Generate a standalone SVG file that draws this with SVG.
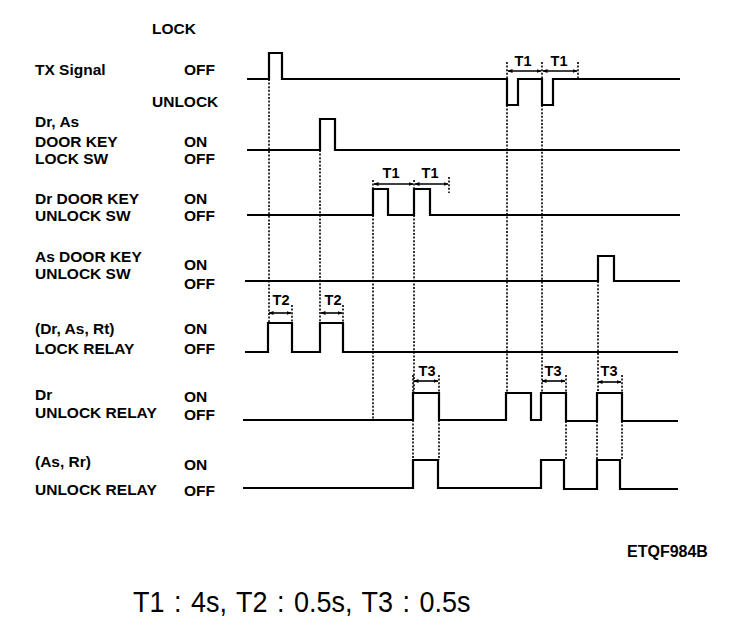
<svg xmlns="http://www.w3.org/2000/svg" width="736" height="628" viewBox="0 0 736 628">
<style>
.lb{font-family:"Liberation Sans",Arial,sans-serif;font-weight:bold;font-size:15.5px;fill:#000}
.tl{font-family:"Liberation Sans",Arial,sans-serif;font-weight:bold;font-size:14.5px;fill:#000;text-anchor:middle}
.wv{fill:none;stroke:#000;stroke-width:2.2;stroke-linejoin:miter}
.dt{fill:none;stroke:#000;stroke-width:1.6;stroke-dasharray:2 1.6}
.ar{fill:none;stroke:#000;stroke-width:1.6;marker-start:url(#ah);marker-end:url(#ah)}
</style>
<defs>
<marker id="ah" viewBox="0 0 10 10" refX="9" refY="5" markerWidth="5" markerHeight="5" orient="auto-start-reverse" markerUnits="userSpaceOnUse">
<path d="M0,1 L10,5 L0,9 z" fill="#000"/>
</marker>
</defs>
<rect width="736" height="628" fill="#fff"/>

<g id="tx-signal">
<text class="lb" x="152" y="34">LOCK</text>
<text class="lb" x="35" y="75">TX Signal</text>
<text class="lb" x="184" y="75">OFF</text>
<text class="lb" x="152" y="107">UNLOCK</text>
<path class="wv" d="M247,79 H269 V53 H282 V79 H507 V105 H518 V79 H542 V105 H553 V79 H680"/>
</g>

<g id="door-key-lock-sw">
<text class="lb" x="35" y="127">Dr, As</text>
<text class="lb" x="35" y="147">DOOR KEY</text>
<text class="lb" x="35" y="164">LOCK SW</text>
<text class="lb" x="184" y="147">ON</text>
<text class="lb" x="184" y="164">OFF</text>
<path class="wv" d="M247,150 H320 V119 H335 V150 H680"/>
</g>

<g id="dr-door-key-unlock-sw">
<text class="lb" x="35" y="204">Dr DOOR KEY</text>
<text class="lb" x="35" y="221">UNLOCK SW</text>
<text class="lb" x="184" y="204">ON</text>
<text class="lb" x="184" y="221">OFF</text>
<path class="wv" d="M247,215 H373 V189 H388 V215 H414 V189 H430 V215 H680"/>
</g>

<g id="as-door-key-unlock-sw">
<text class="lb" x="35" y="262">As DOOR KEY</text>
<text class="lb" x="35" y="279">UNLOCK SW</text>
<text class="lb" x="184" y="270">ON</text>
<text class="lb" x="184" y="289">OFF</text>
<path class="wv" d="M245,281 H598 V256 H614 V281 H680"/>
</g>

<g id="lock-relay">
<text class="lb" x="35" y="334">(Dr, As, Rt)</text>
<text class="lb" x="35" y="354">LOCK RELAY</text>
<text class="lb" x="184" y="334">ON</text>
<text class="lb" x="184" y="354">OFF</text>
<path class="wv" d="M245,352 H268 V323 H292 V352 H320 V323 H343 V352 H678"/>
</g>

<g id="dr-unlock-relay">
<text class="lb" x="35" y="400">Dr</text>
<text class="lb" x="35" y="418">UNLOCK RELAY</text>
<text class="lb" x="184" y="402">ON</text>
<text class="lb" x="184" y="420">OFF</text>
<path class="wv" d="M243,420 H413 V393 H439 V420 H506 V393 H531 V420 H541 V393 H566 V421 H597 V393 H622 V421 H678"/>
</g>

<g id="as-rr-unlock-relay">
<text class="lb" x="35" y="467">(As, Rr)</text>
<text class="lb" x="35" y="495">UNLOCK RELAY</text>
<text class="lb" x="184" y="470">ON</text>
<text class="lb" x="184" y="496">OFF</text>
<path class="wv" d="M243,488 H413 V460 H438 V488 H541 V460 H564 V489 H597 V460 H620 V489 H678"/>
</g>

<g id="connectors">
<path class="dt" d="M269,79 V323 M320,150 V323 M373,215 V420 M414,215 V393 M507,105 V393 M542,105 V393 M598,281 V393"/>
<path class="dt" d="M507,62 V79 M542,62 V79 M578,62 V79"/>
<path class="dt" d="M373,180 V189 M414,180 V189 M449,177 V193"/>
<path class="dt" d="M292,305 V323 M343,305 V323"/>
<path class="dt" d="M439,375 V393 M566,375 V393 M622,375 V393 M413,375 V393"/>
<path class="dt" d="M413,420 V460 M439,420 V460 M566,421 V460 M597,421 V460 M622,421 V460"/>
<line class="ar" x1="508" y1="71" x2="541" y2="71"/>
<line class="ar" x1="543" y1="71" x2="577" y2="71"/>
<line class="ar" x1="374" y1="184" x2="413" y2="184"/>
<line class="ar" x1="415" y1="184" x2="448" y2="184"/>
<line class="ar" x1="269" y1="313" x2="291" y2="313"/>
<line class="ar" x1="321" y1="313" x2="342" y2="313"/>
<line class="ar" x1="414" y1="381" x2="438" y2="381"/>
<line class="ar" x1="542" y1="381" x2="565" y2="381"/>
<line class="ar" x1="598" y1="382" x2="621" y2="382"/>
<text class="tl" x="523" y="66">T1</text>
<text class="tl" x="559" y="66">T1</text>
<text class="tl" x="391" y="178">T1</text>
<text class="tl" x="430" y="178">T1</text>
<text class="tl" x="281" y="305">T2</text>
<text class="tl" x="333" y="305">T2</text>
<text class="tl" x="427" y="376">T3</text>
<text class="tl" x="553" y="376">T3</text>
<text class="tl" x="609" y="376">T3</text>
</g>

<text class="lb" x="627" y="557" style="font-size:16px">ETQF984B</text>
<text transform="translate(133,612) scale(1,1.12)" x="0" y="0" style="font-family:'Liberation Sans',Arial,sans-serif;font-size:27px;word-spacing:2px;fill:#000">T1 : 4s, T2 : 0.5s, T3 : 0.5s</text>
</svg>
